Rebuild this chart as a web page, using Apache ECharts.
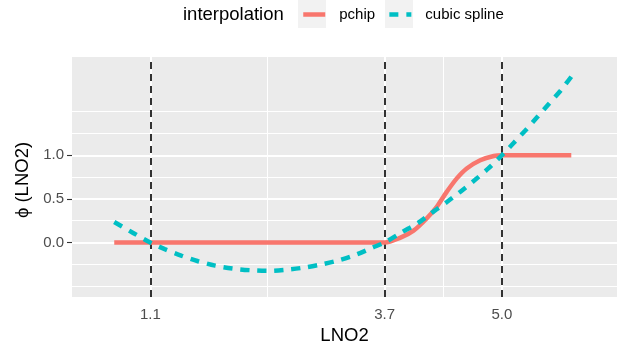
<!DOCTYPE html>
<html>
<head>
<meta charset="utf-8">
<script src="https://cdn.jsdelivr.net/npm/echarts@6/dist/echarts.min.js"></script>
<style>
  html, body { margin: 0; padding: 0; background: #fff; }
  #main { width: 617px; height: 345px; }
</style>
</head>
<body>
<div id="main"></div>
<script>
// values
const pchipX = [0.70, 3.70, 3.87, 4.02, 4.17, 4.28, 4.39, 4.50, 4.61, 4.76, 4.91, 5.00, 5.77];
const pchipY = [0, 0, 0.053, 0.136, 0.281, 0.413, 0.583, 0.735, 0.849, 0.943, 0.992, 1.0, 1.0];

const splineX = [0.70, 0.91, 1.10, 1.26, 1.45, 1.63, 1.82, 2.02, 2.23, 2.41, 2.61, 2.80, 3.00, 3.20, 3.39, 3.56,
                 3.70, 3.89, 4.07, 4.22, 4.39, 4.54, 4.70, 4.85, 5.00, 5.13, 5.26, 5.39, 5.52, 5.65, 5.77];
const splineY = [0.235, 0.110, 0.0, -0.076, -0.152, -0.214, -0.265, -0.299, -0.318, -0.324, -0.311, -0.288, -0.250, -0.201, -0.136, -0.060,
                 0.0, 0.118, 0.224, 0.340, 0.465, 0.583, 0.716, 0.849, 1.0, 1.14, 1.284, 1.435, 1.587, 1.739, 1.90];

const knots = [1.1, 3.7, 5.0];          // dashed lines + x breaks
const xMinor = [2.4, 4.35];
const yBreaks = [0, 0.5, 1.0];
const yMinor = [-0.5, -0.25, 0.25, 0.75, 1.25, 1.5];

const font = 'Liberation Sans, Arial, sans-serif';

const chart = echarts.init(document.getElementById('main'));

function pairs(xs, ys) {
    return xs.map((x, i) => [x, ys[i]]);
}

const plainMark = {
    silent: true,
    symbol: ['none', 'none'],
    label: { show: false },
    emphasis: { disabled: true },
    animation: false
};

const option = {
    animation: false,
    grid: {
        left: 72, right: 0, top: 57, bottom: 48,
        containLabel: false,
        outerBoundsMode: 'none',
        show: true, backgroundColor: '#EBEBEB', borderWidth: 0
    },
    graphic: [
        { type: 'text', left: 183, top: 5, style: { text: 'interpolation', font: '18.5px ' + font, fill: '#000' } },
        { type: 'rect', shape: { x: 298, y: 0, width: 28, height: 28 }, style: { fill: '#F2F2F2' }, z: -1 },
        { type: 'rect', shape: { x: 385, y: 0, width: 28, height: 28 }, style: { fill: '#F2F2F2' }, z: -1 }
    ],
    legend: {
        data: ['pchip', 'cubic spline'],
        left: 301,
        top: 7,
        padding: 0,
        itemWidth: 22,
        itemHeight: 14,
        itemGap: 12,
        itemStyle: { opacity: 0 },
        lineStyle: { width: 4.5 },
        textStyle: { fontFamily: font, fontSize: 15, color: '#000', padding: [0, 0, 0, 9] }
    },
    xAxis: {
        type: 'value',
        min: 0.2314,
        max: 6.277,
        name: 'LNO2',
        nameLocation: 'middle',
        nameGap: 28,
        nameTextStyle: { fontFamily: font, fontSize: 18.5, color: '#000' },
        axisLine: { show: false },
        splitLine: { show: false },
        axisTick: { show: true, length: 5, customValues: knots, lineStyle: { color: '#333', width: 1.1 } },
        axisLabel: {
            customValues: knots,
            fontFamily: font, fontSize: 15, color: '#4D4D4D', margin: 10,
            formatter: v => v.toFixed(1)
        }
    },
    yAxis: {
        type: 'value',
        min: -0.624,
        max: 2.126,
        name: 'ϕ (LNO2)',
        nameLocation: 'middle',
        nameRotate: 90,
        nameGap: 29,
        nameTextStyle: { fontFamily: font, fontSize: 18.5, color: '#000', padding: [0, 6, 0, 0] },
        axisLine: { show: false },
        splitLine: { show: false },
        axisTick: { show: true, length: 5, customValues: yBreaks, lineStyle: { color: '#333', width: 1.1 } },
        axisLabel: {
            customValues: yBreaks,
            fontFamily: font, fontSize: 15, color: '#4D4D4D', margin: 8,
            formatter: v => v.toFixed(1)
        }
    },
    series: [
        {
            // panel grid lines
            name: 'grid', type: 'line', data: [], z: 1,
            markLine: Object.assign({}, plainMark, {
                z: 1,
                data: [
                    ...xMinor.map(v => ({ xAxis: v, lineStyle: { color: '#fff', width: 1.1, type: 'solid' } })),
                    ...yMinor.map(v => ({ yAxis: v, lineStyle: { color: '#fff', width: 1.1, type: 'solid' } })),
                    ...knots.map(v => ({ xAxis: v, lineStyle: { color: '#fff', width: 2, type: 'solid' } })),
                    ...yBreaks.map(v => ({ yAxis: v, lineStyle: { color: '#fff', width: 2, type: 'solid' } }))
                ]
            })
        },
        {
            // knot lines
            name: 'knots', type: 'line', data: [], z: 2,
            markLine: Object.assign({}, plainMark, {
                z: 2,
                lineStyle: { color: '#000', width: 1.6, type: [7, 5] },
                data: knots.map(v => ({ xAxis: v }))
            })
        },
        {
            name: 'pchip', type: 'line', z: 3,
            data: pairs(pchipX, pchipY),
            smooth: 0.3,
            showSymbol: false, symbol: 'none',
            color: '#F8766D',
            lineStyle: { color: '#F8766D', width: 4.5 }
        },
        {
            name: 'cubic spline', type: 'line', z: 4,
            data: pairs(splineX, splineY),
            smooth: 0.3,
            showSymbol: false, symbol: 'none',
            color: '#00BFC4',
            lineStyle: { color: '#00BFC4', width: 4.5, type: [9, 8] }
        }
    ]
};

chart.setOption(option);
</script>
</body>
</html>
